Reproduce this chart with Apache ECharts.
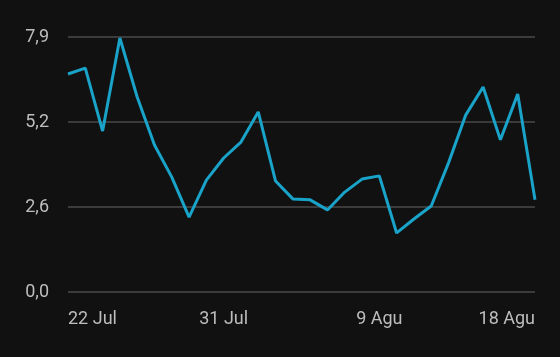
<!DOCTYPE html>
<html>
<head>
<meta charset="utf-8">
<script src="https://cdn.jsdelivr.net/npm/echarts@6/dist/echarts.min.js"></script>
<style>
html,body{margin:0;padding:0;background:#111111;}
#c{width:560px;height:357px;}
</style>
</head>
<body>
<div id="c"></div>
<script>
const categories = ["22 Jul","23 Jul","24 Jul","25 Jul","26 Jul","27 Jul","28 Jul","29 Jul","30 Jul","31 Jul",
  "1 Agu","2 Agu","3 Agu","4 Agu","5 Agu","6 Agu","7 Agu","8 Agu","9 Agu","10 Agu",
  "11 Agu","12 Agu","13 Agu","14 Agu","15 Agu","16 Agu","17 Agu","18 Agu"];
const values = [6.72,6.90,4.96,7.83,6.01,4.53,3.54,2.31,3.45,4.13,
  4.62,5.55,3.42,2.87,2.84,2.53,3.08,3.48,3.58,1.82,
  2.25,2.65,3.98,5.46,6.32,4.69,6.10,2.84];
const yMax = 7.86;
const yInterval = 2.62;

const chart = echarts.init(document.getElementById('c'), null, {renderer:'canvas'});
chart.setOption({
  backgroundColor: '#111111',
  animation: false,
  grid: {left: 68, right: 25, top: 37, bottom: 65, containLabel: false},
  xAxis: {
    type: 'category',
    data: categories,
    boundaryGap: false,
    axisLine: {show: false},
    axisTick: {show: false},
    axisLabel: {
      interval: 8,
      color: '#bdbdbd',
      fontFamily: 'Roboto',
      fontSize: 18,
      margin: 18,
      alignMinLabel: 'left',
      alignMaxLabel: 'right'
    },
    splitLine: {show: false}
  },
  yAxis: {
    type: 'value',
    min: 0,
    max: yMax,
    interval: yInterval,
    axisLine: {show: false},
    axisTick: {show: false},
    axisLabel: {
      color: '#bdbdbd',
      fontFamily: 'Roboto',
      fontSize: 18,
      margin: 19,
      formatter: v => v.toFixed(1).replace('.', ',')
    },
    splitLine: {lineStyle: {color: '#4a4a4a', width: 1.5}}
  },
  series: [{
    type: 'line',
    data: values,
    showSymbol: false,
    symbol: 'none',
    lineStyle: {color: '#1aa3c9', width: 3},
    itemStyle: {color: '#1aa3c9'}
  }]
});
</script>
</body>
</html>
